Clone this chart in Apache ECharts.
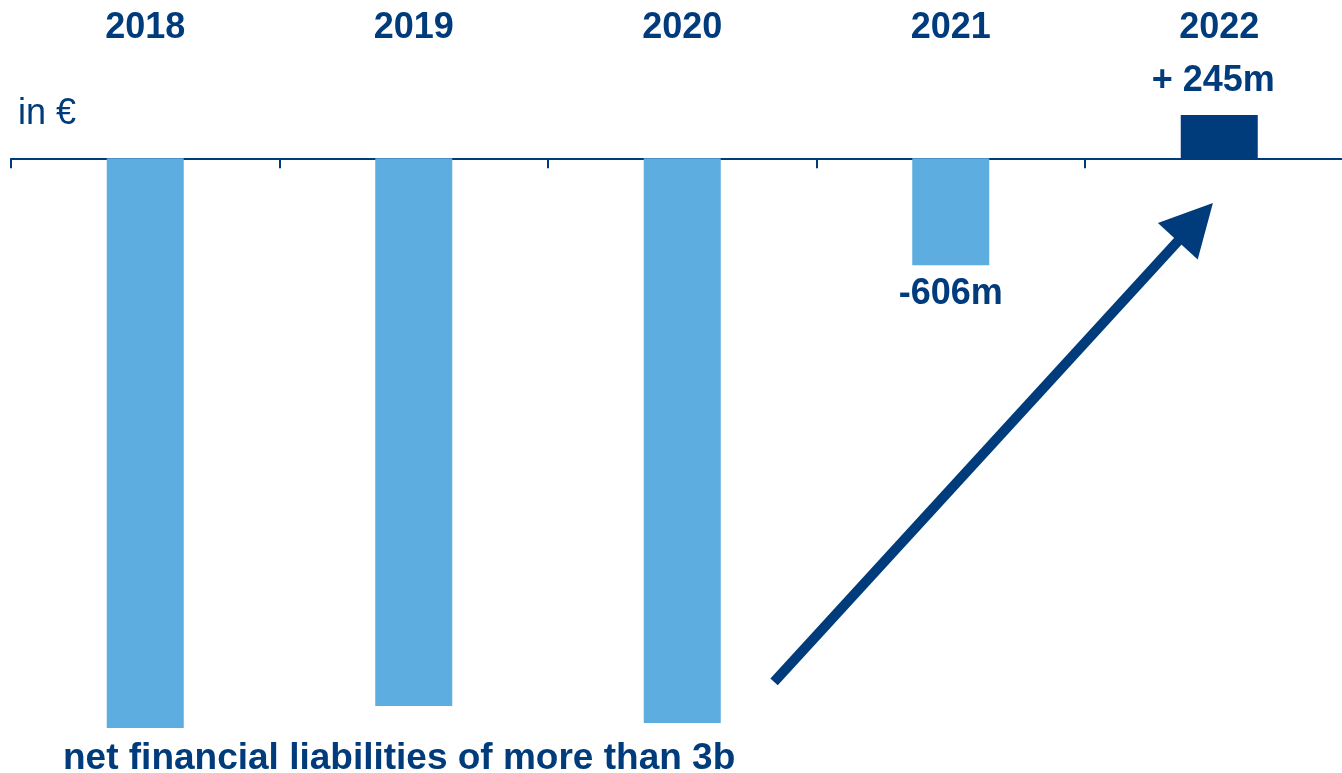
<!DOCTYPE html>
<html>
<head>
<meta charset="utf-8">
<script src="https://cdn.jsdelivr.net/npm/echarts@6/dist/echarts.min.js"></script>
<style>
html,body{margin:0;padding:0;background:#fff;overflow:hidden;}
#chart{width:1370px;height:790px;}
</style>
</head>
<body>
<div id="chart"></div>
<script>
// ---- data ----
const years = ['2018', '2019', '2020', '2021', '2022'];
const netFinancialPosition = [-3231, -3107, -3203, -606, 245]; // € m
const valueLabels = ['', '', '', '-606m', '+ 245m'];
const unitText = 'in €';
const noteText = 'net financial liabilities of more than 3b';
// arrow annotation (category-position, € m)
const arrowFrom = [2.842, -2970];
const arrowTo = [4.411, -362];

// ---- style ----
const NAVY = '#003b7b';
const LIGHT = '#5dade0';
const FONT = '"Liberation Sans", Arial, sans-serif';

const chart = echarts.init(document.getElementById('chart'), null, {renderer: 'canvas'});

const option = {
  animation: false,
  backgroundColor: '#ffffff',
  grid: {left: 11, top: 70.15, width: 1342.5, height: 705.2, containLabel: false},
  title: [
    {text: unitText, left: 13, top: 91,
     textStyle: {fontFamily: FONT, fontSize: 36, fontWeight: 'normal', color: NAVY}},
    {text: noteText, left: 58, top: 735,
     textStyle: {fontFamily: FONT, fontSize: 37, fontWeight: 'bold', color: NAVY}}
  ],
  xAxis: [
    {
      type: 'category', data: years, position: 'bottom',
      axisLine: {onZero: true, lineStyle: {color: NAVY, width: 2}},
      axisTick: {show: true, length: 10, lineStyle: {color: NAVY, width: 2}},
      axisLabel: {show: false}, splitLine: {show: false}
    },
    {
      type: 'category', data: years, position: 'top',
      axisLine: {show: false}, axisTick: {show: false},
      axisLabel: {show: true, margin: 42, verticalAlign: 'middle',
        fontFamily: FONT, fontSize: 36, fontWeight: 'bold', color: NAVY}
    },
    {type: 'value', min: 0, max: 5, show: false}
  ],
  yAxis: [{type: 'value', min: -3500, max: 500, show: false, splitLine: {show: false}}],
  series: [
    {
      type: 'bar', xAxisIndex: 0, yAxisIndex: 0, barWidth: 77,
      data: netFinancialPosition.map((v, i) => ({
        value: v,
        itemStyle: {color: i === netFinancialPosition.length - 1 ? NAVY : LIGHT},
        label: {
          show: valueLabels[i] !== '',
          formatter: valueLabels[i],
          position: v >= 0 ? 'top' : 'bottom',
          distance: v >= 0 ? 16 : 11,
          offset: v >= 0 ? [-6, 0] : [0, 0],
          fontFamily: FONT, fontSize: 36, fontWeight: 'bold', color: NAVY
        }
      }))
    },
    {
      type: 'line', xAxisIndex: 2, yAxisIndex: 0, data: [], silent: true,
      markLine: {
        silent: true, animation: false,
        symbol: ['none', 'triangle'], symbolSize: [54, 52],
        label: {show: false},
        lineStyle: {color: NAVY, width: 10, type: 'solid', cap: 'butt'},
        itemStyle: {color: NAVY},
        emphasis: {disabled: true},
        data: [[{coord: arrowFrom}, {coord: arrowTo}]]
      }
    }
  ]
};
chart.setOption(option);
</script>
</body>
</html>
